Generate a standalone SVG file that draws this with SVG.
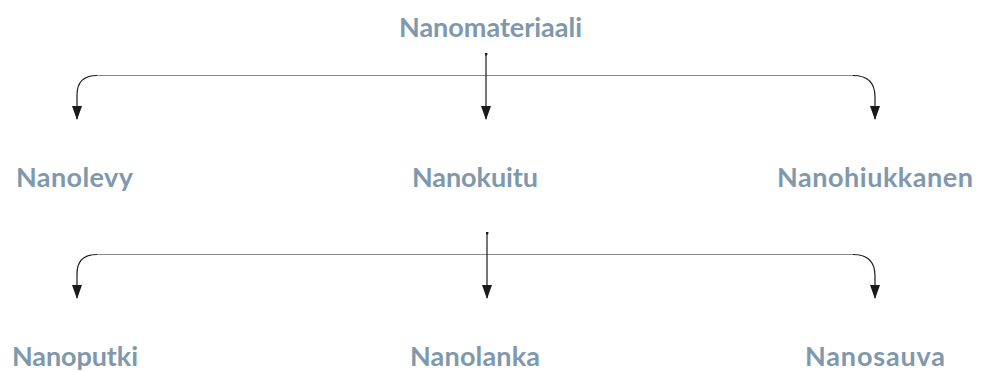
<svg xmlns="http://www.w3.org/2000/svg" width="981" height="372" viewBox="0 0 981 372">
  <style>
    .lbl { font-family: Lato, "Liberation Sans", sans-serif; font-weight: 700; font-size: 27px; fill: #8098ad; }
    .bar { fill: none; stroke: #8a8a8a; stroke-width: 1.2; }
    .drop { fill: none; stroke: #1a1a1a; stroke-width: 1.2; }
  </style>
  <defs>
    <marker id="tip" viewBox="0 0 14 10" refX="13" refY="5" markerWidth="14" markerHeight="10" markerUnits="userSpaceOnUse" orient="auto">
      <path d="M0,0 L14,5 L0,10 Z" fill="#1a1a1a"/>
    </marker>
    <marker id="dot" viewBox="0 0 4 4" refX="2" refY="2" markerWidth="3" markerHeight="3" markerUnits="userSpaceOnUse">
      <circle cx="2" cy="2" r="2" fill="#1a1a1a"/>
    </marker>
  </defs>

  <g id="connectors">
    <!-- first level -->
    <path class="bar" d="M97,75.5 H853"/>
    <path class="drop" d="M97,75.5 Q77,75.5 77,95 V119" marker-end="url(#tip)"/>
    <path class="drop" d="M853,75.5 Q875,75.5 875,97 V119" marker-end="url(#tip)"/>
    <path class="drop" d="M486,54 V119" marker-start="url(#dot)" marker-end="url(#tip)"/>
    <!-- second level -->
    <path class="bar" d="M97,254.5 H853"/>
    <path class="drop" d="M97,254.5 Q77,254.5 77,274 V298" marker-end="url(#tip)"/>
    <path class="drop" d="M853,254.5 Q875,254.5 875,276 V298" marker-end="url(#tip)"/>
    <path class="drop" d="M487,233 V298" marker-start="url(#dot)" marker-end="url(#tip)"/>
  </g>

  <g id="nanomateriaali"><text class="lbl" x="399" y="37" textLength="183" lengthAdjust="spacing">Nanomateriaali</text></g>
  <g id="nanolevy"><text class="lbl" x="16" y="187" textLength="117" lengthAdjust="spacing">Nanolevy</text></g>
  <g id="nanokuitu"><text class="lbl" x="412" y="187" textLength="126" lengthAdjust="spacing">Nanokuitu</text></g>
  <g id="nanohiukkanen"><text class="lbl" x="777" y="187" textLength="196" lengthAdjust="spacing">Nanohiukkanen</text></g>
  <g id="nanoputki"><text class="lbl" x="12" y="366" textLength="126" lengthAdjust="spacing">Nanoputki</text></g>
  <g id="nanolanka"><text class="lbl" x="410" y="366" textLength="130" lengthAdjust="spacing">Nanolanka</text></g>
  <g id="nanosauva"><text class="lbl" x="805" y="366" textLength="140" lengthAdjust="spacing">Nanosauva</text></g>
</svg>
